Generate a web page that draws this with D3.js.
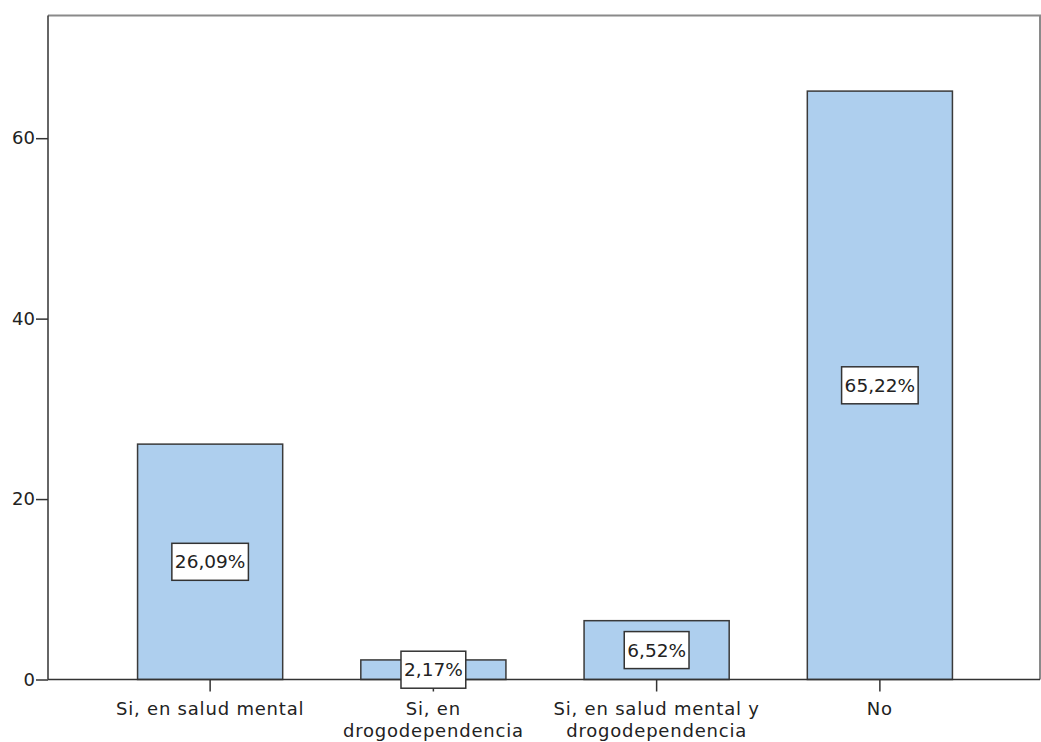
<!DOCTYPE html>
<html>
<head>
<meta charset="utf-8">
<script src="https://cdn.jsdelivr.net/npm/d3@7"></script>
<style>
  html, body { margin: 0; padding: 0; background: #fff; }
  svg { display: block; }
  text { font-family: "DejaVu Sans", Verdana, sans-serif; fill: #222; }
</style>
</head>
<body>
<svg id="chart" width="1041" height="742"></svg>
<script>
// Categories (each label split into its display lines)
const categories = ["Si, en salud mental", "Si, en drogodependencia", "Si, en salud mental y drogodependencia", "No"];
const categoryLines = [
  ["Si, en salud mental"],
  ["Si, en", "drogodependencia"],
  ["Si, en salud mental y", "drogodependencia"],
  ["No"]
];
// Percentages per category
const percentValues = [26.09, 2.17, 6.52, 65.22];
const percentLabels = ["26,09%", "2,17%", "6,52%", "65,22%"];
// Y axis ticks
const yTicks = [0, 20, 40, 60];
const yMax = 73.6;

const svg = d3.select("#chart");
const frame = { left: 48, right: 1040, top: 15.5, bottom: 679.5 };

const x = d3.scaleBand()
  .domain(categories)
  .range([98.5, 991.5])
  .paddingInner(0.35)
  .paddingOuter(0.175);

const y = d3.scaleLinear()
  .domain([0, yMax])
  .range([frame.bottom, frame.top]);

// Frame: top and right edges in light gray
svg.append("path")
  .attr("d", `M${frame.left},${frame.top}H${frame.right}V${frame.bottom}`)
  .attr("fill", "none")
  .attr("stroke", "#8a8a8a")
  .attr("stroke-width", 2);

// Bars
svg.append("g").selectAll("rect")
  .data(percentValues)
  .join("rect")
  .attr("x", (d, i) => x(categories[i]))
  .attr("width", x.bandwidth())
  .attr("y", d => y(d))
  .attr("height", d => y(0) - y(d))
  .attr("fill", "#aecfee")
  .attr("stroke", "#3a3a3a")
  .attr("stroke-width", 1.5);

// Y axis
const yAxis = svg.append("g")
  .attr("transform", `translate(${frame.left},0)`)
  .call(d3.axisLeft(y).tickValues(yTicks).tickSize(12).tickPadding(1).tickFormat(d3.format("d")));
yAxis.select(".domain").remove();
yAxis.selectAll(".tick line").attr("stroke", "#333").attr("stroke-width", 1.5);
yAxis.selectAll(".tick text").style("font-size", "18px").attr("fill", "#222");
svg.append("line")
  .attr("x1", frame.left).attr("x2", frame.left)
  .attr("y1", frame.top).attr("y2", frame.bottom)
  .attr("stroke", "#333").attr("stroke-width", 1.5);

// X axis
const xAxis = svg.append("g")
  .attr("transform", `translate(0,${frame.bottom})`)
  .call(d3.axisBottom(x).tickSize(12).tickFormat(""));
xAxis.select(".domain").remove();
xAxis.selectAll(".tick line").attr("stroke", "#333").attr("stroke-width", 1.5);
svg.append("line")
  .attr("x1", frame.left).attr("x2", frame.right)
  .attr("y1", frame.bottom).attr("y2", frame.bottom)
  .attr("stroke", "#333").attr("stroke-width", 1.5);

// Category labels
const catLabels = svg.append("g").selectAll("text")
  .data(categories)
  .join("text")
  .attr("x", d => x(d) + x.bandwidth() / 2)
  .attr("y", 715)
  .attr("text-anchor", "middle")
  .style("font-size", "18px")
  .style("letter-spacing", "0.8px");
catLabels.each(function (d, i) {
  const t = d3.select(this);
  categoryLines[i].forEach((line, j) => {
    t.append("tspan")
      .attr("x", x(d) + x.bandwidth() / 2)
      .attr("dy", j === 0 ? 0 : 21.5)
      .text(line);
  });
});

// Value labels in boxes at bar mid-height
const valueGroups = svg.append("g").selectAll("g")
  .data(percentValues)
  .join("g")
  .attr("transform", (d, i) => `translate(${x(categories[i]) + x.bandwidth() / 2},${y(d / 2)})`);
valueGroups.each(function (d, i) {
  const g = d3.select(this);
  const rect = g.append("rect").attr("fill", "#fff").attr("stroke", "#333").attr("stroke-width", 1.5);
  const t = g.append("text")
    .attr("text-anchor", "middle")
    .attr("dy", "0.36em")
    .style("font-size", "18.5px")
    .text(percentLabels[i]);
  const w = t.node().getComputedTextLength() + 6;
  rect.attr("x", -w / 2).attr("y", -18.5).attr("width", w).attr("height", 37);
});
</script>
</body>
</html>
